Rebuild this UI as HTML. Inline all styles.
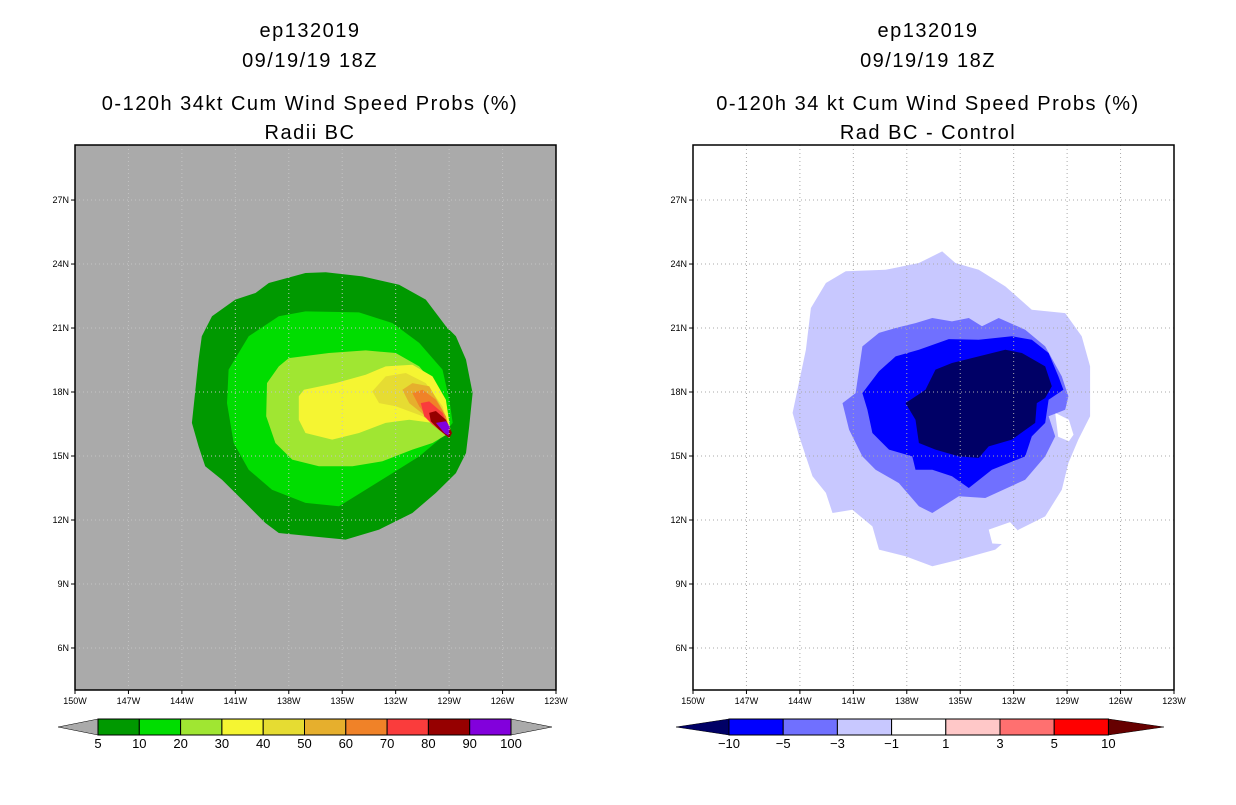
<!DOCTYPE html>
<html><head><meta charset="utf-8"><style>
body{margin:0;background:#fff;width:1236px;height:800px;overflow:hidden;font-family:"Liberation Sans",sans-serif}
svg text{font-family:"Liberation Sans",sans-serif}
</style></head><body>
<svg id="s" width="1236" height="800" xmlns="http://www.w3.org/2000/svg"></svg>
<script>
// ---- data ----
const lonTicks=[-150,-147,-144,-141,-138,-135,-132,-129,-126,-123];
const latTicks=[6,9,12,15,18,21,24,27];
const leftLevels=['5','10','20','30','40','50','60','70','80','90','100'];
const leftColors=['#009900','#00dd00','#a0e632','#f5f532','#e6dc32','#e6af2d','#f08228','#fa3c3c','#960000','#8200dc'];
const rightLevels=['-10','-5','-3','-1','1','3','5','10'];
const rightColors=['#0000ff','#7070ff','#c8c8ff','#ffffff','#ffc8c8','#ff7070','#ff0000'];
const leftPolys=[
 [[-143.44,16.55],[-143.06,19.52],[-142.88,20.61],[-142.31,21.55],[-141,22.33],[-139.87,22.64],[-139.12,23.11],[-137.06,23.58],[-135.93,23.61],[-133.87,23.42],[-131.81,23.03],[-130.31,22.33],[-129.18,21.08],[-128.62,20.61],[-128.05,19.52],[-127.68,17.95],[-127.87,16.39],[-128.05,15.14],[-128.62,14.2],[-129.74,13.27],[-131.06,12.33],[-132.93,11.55],[-134.81,11.08],[-136.68,11.23],[-138.56,11.39],[-139.31,11.86],[-140.25,12.64],[-141.75,13.89],[-142.69,14.52],[-143.06,15.45]],
 [[-141.38,19.05],[-140.25,20.61],[-138.56,21.55],[-137.06,21.78],[-134.06,21.73],[-132.18,21.23],[-130.68,20.3],[-129.37,19.05],[-128.99,17.64],[-128.8,16.55],[-129.56,15.77],[-130.68,14.98],[-132.18,14.2],[-133.68,13.42],[-135.18,12.64],[-137.06,12.8],[-138.94,13.42],[-140.25,14.36],[-141.09,15.61],[-141.47,17.48]],
 [[-139.22,18.42],[-138.56,19.2],[-138,19.59],[-135.75,19.83],[-133.68,19.95],[-132,19.83],[-130.68,19.2],[-129.74,18.27],[-129.18,17.17],[-128.99,16.08],[-129.93,15.61],[-131.06,15.3],[-132.74,14.75],[-134.43,14.52],[-136.31,14.52],[-137.81,14.83],[-138.75,15.61],[-139.27,16.86]],
 [[-137.44,17.8],[-137.15,18.11],[-135.37,18.42],[-133.68,18.81],[-132.56,19.2],[-131.06,19.28],[-129.93,18.73],[-129.18,17.64],[-128.9,16.08],[-129.93,16.55],[-131.24,16.7],[-132.56,16.55],[-134.06,16.08],[-135.56,15.77],[-137.06,16.08],[-137.44,16.7]],
 [[-133.31,18.03],[-132.56,18.73],[-131.43,18.89],[-130.31,18.42],[-129.37,17.33],[-128.9,16.08],[-130.49,16.86],[-132,17.33],[-132.93,17.48]],
 [[-131.62,18.11],[-131.06,18.42],[-130.12,18.27],[-129.37,17.17],[-128.9,16.08],[-130.31,16.86],[-131.24,17.48]],
 [[-131.06,17.95],[-130.49,18.11],[-129.74,17.64],[-129.18,16.86],[-128.9,16.0],[-130.12,16.7],[-130.68,17.33]],
 [[-130.59,17.48],[-130.12,17.56],[-129.37,17.02],[-128.9,16.08],[-128.99,15.84],[-129.93,16.47],[-130.4,16.86]],
 [[-130.12,17.02],[-129.74,17.11],[-129.18,16.7],[-128.84,16.08],[-128.99,15.84],[-129.56,16.23],[-130.03,16.63]],
 [[-129.74,16.55],[-129.18,16.63],[-128.96,16.39],[-129.03,15.95],[-129.27,16.08]]
];
const rightPolyColors=['#c8c8ff','#ffffff','#ffffff','#7070ff','#0000ff','#000066'];
const rightPolys=[
 [[-144.41,17.02],[-143.66,19.98],[-143.38,21.94],[-142.54,23.11],[-141.43,23.66],[-139.19,23.73],[-137.32,24.05],[-136.01,24.59],[-135.27,24.05],[-133.96,23.73],[-132.47,22.95],[-130.98,21.86],[-129.11,21.7],[-128.18,20.61],[-127.71,19.2],[-127.71,16.86],[-128.37,15.77],[-128.93,14.67],[-129.3,13.42],[-130.23,12.17],[-131.72,11.55],[-133.03,10.61],[-135.08,10.14],[-136.57,9.83],[-138.07,10.3],[-139.56,10.61],[-139.93,11.7],[-141.05,12.48],[-142.17,12.33],[-142.54,13.27],[-143.29,14.05],[-144.04,15.92]],
 [[-129.67,17.02],[-128.9,16.7],[-128.64,16.0],[-128.9,15.69],[-129.5,15.9]],
 [[-133.4,11.55],[-132.2,11.9],[-131.54,11.3],[-132.0,10.84],[-133.2,10.9]],
 [[-141.61,17.48],[-140.87,17.95],[-140.49,20.14],[-139.56,20.77],[-138.63,21],[-137.51,21.23],[-136.57,21.47],[-135.46,21.31],[-134.52,21.47],[-133.78,21.08],[-132.84,21.47],[-131.35,20.92],[-130.23,20.14],[-129.3,18.73],[-128.93,17.8],[-129.11,17.17],[-130.04,16.86],[-129.67,15.92],[-130.23,14.98],[-131.35,13.89],[-133.59,13.03],[-135.08,13.11],[-136.57,12.33],[-137.32,12.64],[-138.44,13.73],[-139.75,14.36],[-140.49,14.98],[-141.24,16.23]],
 [[-140.49,17.95],[-139.56,18.97],[-138.63,19.67],[-137.32,19.98],[-135.64,20.48],[-133.96,20.45],[-132.1,20.61],[-130.98,20.45],[-130.04,19.83],[-129.49,18.73],[-129.21,18.11],[-130.04,17.64],[-130.23,16.55],[-130.98,15.92],[-131.35,14.98],[-133.22,14.36],[-134.52,13.5],[-135.46,14.05],[-136.57,14.36],[-137.51,14.36],[-137.69,14.98],[-139,15.3],[-139.93,16.08],[-140.21,17.17]],
 [[-138.07,17.48],[-136.95,18.11],[-136.39,19.05],[-135.46,19.36],[-133.96,19.67],[-132.47,19.98],[-131.54,19.83],[-130.23,19.2],[-129.86,18.27],[-130.23,17.72],[-130.7,17.48],[-130.79,16.55],[-132.1,15.77],[-133.4,15.45],[-133.96,14.91],[-135.08,14.98],[-136.39,15.3],[-137.32,15.61],[-137.51,16.7]]
];
// ---- drawing ----
const S=document.getElementById('s');
const NS='http://www.w3.org/2000/svg';
function mk(t,a,p){const e=document.createElementNS(NS,t);for(const k in a)e.setAttribute(k,a[k]);(p||S).appendChild(e);return e;}
const LON0=-150,LON1=-123,LAT0=4.03,LAT1=29.58,Y0=145,Y1=690;
function panel(x0,bg,polys,pcolors,titles,grid,name){
  const x1=x0+481;
  const sx=l=>x0+(l-LON0)/(LON1-LON0)*(x1-x0);
  const sy=l=>Y1-(l-LAT0)/(LAT1-LAT0)*(Y1-Y0);
  const g=mk('g',{});
  
  
  mk('rect',{x:x0,y:Y0,width:x1-x0,height:Y1-Y0,fill:bg},g);
  polys.forEach((p,i)=>{
    const e=mk('polygon',{points:p.map(q=>sx(q[0]).toFixed(1)+','+sy(q[1]).toFixed(1)).join(' '),fill:pcolors[i]},g);
    
    
  });
  lonTicks.forEach(l=>{
    if(l>LON0&&l<LON1) mk('line',{x1:sx(l),x2:sx(l),y1:Y0,y2:Y1,stroke:grid,'stroke-dasharray':'1,3','stroke-width':1},g);
    mk('line',{x1:sx(l),x2:sx(l),y1:Y1,y2:Y1+4,stroke:'#000'},g);
    const t=mk('text',{x:sx(l),y:Y1+14,'font-size':9,'text-anchor':'middle'},g);t.textContent=(-l)+'W';
    
    
  });
  latTicks.forEach(l=>{
    mk('line',{x1:x0,x2:x1,y1:sy(l),y2:sy(l),stroke:grid,'stroke-dasharray':'1,3','stroke-width':1},g);
    mk('line',{x1:x0-4,x2:x0,y1:sy(l),y2:sy(l),stroke:'#000'},g);
    const t=mk('text',{x:x0-6,y:sy(l)+3,'font-size':9,'text-anchor':'end'},g);t.textContent=l+'N';
    
    
  });
  mk('rect',{x:x0,y:Y0,width:x1-x0,height:Y1-Y0,fill:'none',stroke:'#000','stroke-width':1.5},g);
  const cx=x0+235;
  [[37,titles[0]],[67,titles[1]],[110,titles[2]],[139,titles[3]]].forEach(([y,s])=>{
    const t=mk('text',{x:cx,y:y,'font-size':20,'text-anchor':'middle','letter-spacing':'1.5'},g);t.textContent=s;
    
    
  });
}
panel(75,'#aaaaaa',leftPolys,leftColors,['ep132019','09/19/19 18Z','0-120h 34kt Cum Wind Speed Probs (%)','Radii BC'],'#c4c4c4','left-map-panel');
panel(693,'#ffffff',rightPolys,rightPolyColors,['ep132019','09/19/19 18Z','0-120h 34 kt Cum Wind Speed Probs (%)','Rad BC - Control'],'#aaaaaa','right-map-panel');

function cbar(start,w,tipL,tipR,colors,labels,lc,rc,name){
  const g=mk('g',{});
  
  
  const y=719,h=16,end=start+w*colors.length;
  mk('polygon',{points:`${tipL},${y+h/2} ${start},${y} ${start},${y+h}`,fill:lc,stroke:'#000','stroke-width':0.5},g);
  mk('polygon',{points:`${tipR},${y+h/2} ${end},${y} ${end},${y+h}`,fill:rc,stroke:'#000','stroke-width':0.5},g);
  colors.forEach((c,i)=>{
    const r=mk('rect',{x:start+i*w,y:y,width:w,height:h,fill:c,stroke:'#000','stroke-width':1},g);
    
    
  });
  labels.forEach((s,i)=>{
    const t=mk('text',{x:start+i*w,y:y+h+13,'font-size':13,'text-anchor':'middle'},g);t.textContent=s.replace('-','\u2212');
    
    
  });
}
cbar(98,41.3,58,552,leftColors,leftLevels,'#aaaaaa','#aaaaaa','left-colorbar');
cbar(729,54.2,676,1164,rightColors,rightLevels,'#000066','#660000','right-colorbar');
</script>
</body></html>
